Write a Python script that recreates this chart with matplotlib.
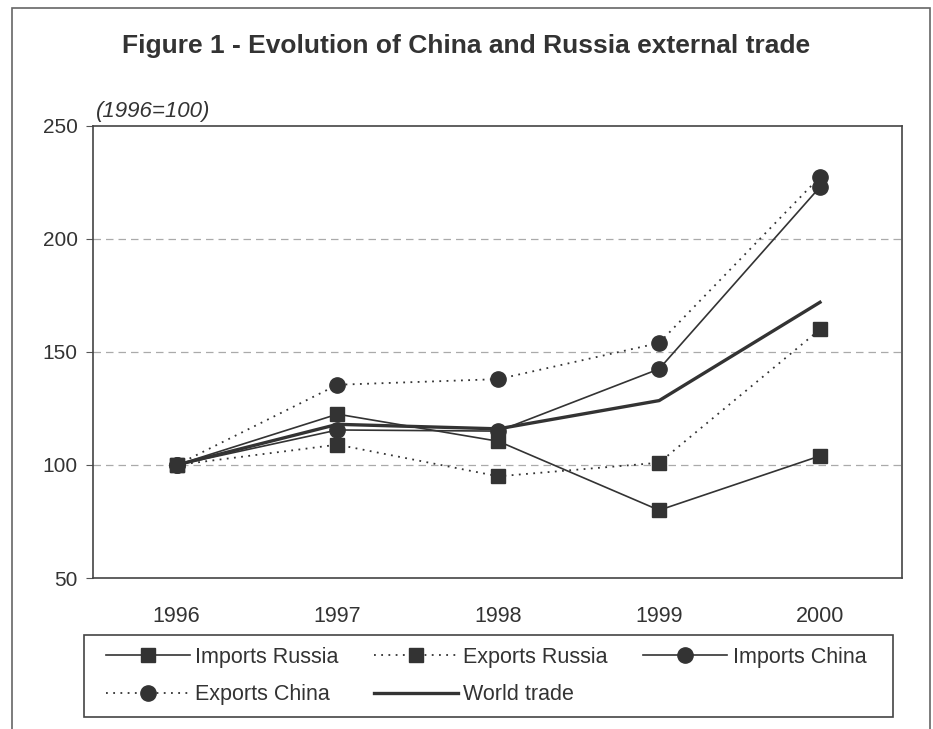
import matplotlib
matplotlib.use("Agg")
import matplotlib.pyplot as plt
from matplotlib.patches import Rectangle

years = ["1996", "1997", "1998", "1999", "2000"]
imports_russia = [100, 122.5, 110.5, 80, 104]
exports_russia = [100, 109, 95, 101, 160]
imports_china = [100, 115.5, 115, 142.5, 223]
exports_china = [100, 135.5, 138, 154, 227.5]
world_trade = [100, 118, 116, 128.5, 172]

title = "Figure 1 - Evolution of China and Russia external trade"
subtitle = "(1996=100)"
yticks = [50, 100, 150, 200, 250]

W, H = 933, 729
fig = plt.figure(figsize=(W / 100, H / 100), dpi=100)
fig.patch.set_facecolor("white")

font_main = ["Liberation Sans", "DejaVu Sans"]

ax = fig.add_axes([93 / W, 1 - 578 / H, (902 - 93) / W, (578 - 126) / H])
x = list(range(len(years)))
c = "#333333"
dot = (0, (1, 3))

ax.plot(x, imports_russia, color=c, lw=1.2, marker="s", ms=10.5, mec=c, mfc=c, label="Imports Russia", zorder=3)
ax.plot(x, exports_russia, color=c, lw=1.3, ls=dot, marker="s", ms=10.5, mec=c, mfc=c, label="Exports Russia", zorder=3)
ax.plot(x, imports_china, color=c, lw=1.2, marker="o", ms=11, mec=c, mfc=c, label="Imports China", zorder=3)
ax.plot(x, exports_china, color=c, lw=1.3, ls=dot, marker="o", ms=11, mec=c, mfc=c, label="Exports China", zorder=3)
ax.plot(x, world_trade, color=c, lw=2.4, label="World trade", zorder=3)

ax.set_xlim(-0.52, 4.51)
ax.set_ylim(50, 250)
ax.set_yticks(yticks)
ax.set_yticklabels([str(v) for v in yticks], fontsize=15, family=font_main, color="#333333")
ax.set_xticks(x)
ax.set_xticklabels(years, fontsize=15.5, family=font_main, color="#333333")
ax.tick_params(axis="x", length=0, pad=20)
ax.tick_params(axis="y", length=5, width=0.8, color="#555555", pad=6)
for s in ax.spines.values():
    s.set_color("#444444")
    s.set_linewidth(1.2)
for g in [100, 150, 200]:
    ax.axhline(g, color="#aaaaaa", lw=0.9, ls=(0, (6, 4)), zorder=1)

fig.text(0.5, 1 - 46 / H, title, ha="center", va="center", fontsize=19,
         fontweight="bold", family=font_main, color="#333333")
fig.text(96 / W, 1 - 111 / H, subtitle, ha="left", va="center", fontsize=16,
         style="italic", family=font_main, color="#333333")

handles, labels = ax.get_legend_handles_labels()
order = [0, 3, 1, 4, 2]
leg = fig.legend([handles[i] for i in order], [labels[i] for i in order],
                 loc="center", ncol=3,
                 bbox_to_anchor=(486 / W, 1 - 676 / H),
                 borderaxespad=0, frameon=False,
                 handlelength=3.9, handletextpad=0.25, columnspacing=1.65,
                 labelspacing=0.75, prop={"family": font_main, "size": 15.5},
                 borderpad=0.0)
for t in leg.get_texts():
    t.set_color("#333333")

fig.patches.append(Rectangle((84 / W, 1 - 717 / H), (893 - 84) / W, (717 - 635) / H,
                             transform=fig.transFigure, fill=False,
                             edgecolor="#444444", lw=1.2))
fig.patches.append(Rectangle((12 / W, -0.02), (930 - 12) / W, 1 - 8 / H + 0.02,
                             transform=fig.transFigure, fill=False,
                             edgecolor="#666666", lw=1.2))

fig.savefig("out.png", dpi=100)
